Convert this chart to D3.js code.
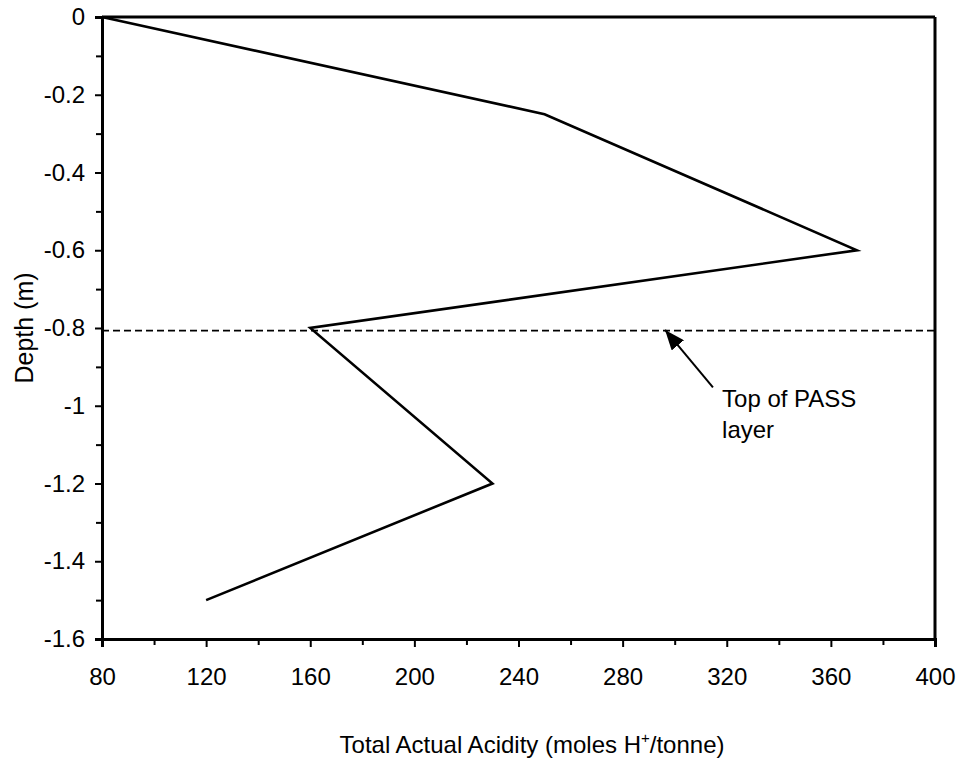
<!DOCTYPE html>
<html>
<head>
<meta charset="utf-8">
<script src="https://cdn.jsdelivr.net/npm/d3@7"></script>
<style>
  html, body { margin: 0; padding: 0; background: #fff; }
  svg { display: block; font-family: Arial, "Liberation Sans", sans-serif; }
</style>
</head>
<body>
<svg id="chart" width="960" height="766"></svg>
<script>
// ---- data ----
const acidity = [80, 250, 370, 160, 230, 120];
const depth = [0, -0.25, -0.6, -0.8, -1.2, -1.5];
const xTickValues = [80, 120, 160, 200, 240, 280, 320, 360, 400];
const yTickValues = [0, -0.2, -0.4, -0.6, -0.8, -1, -1.2, -1.4, -1.6];
const yTickLabels = ["0", "-0.2", "-0.4", "-0.6", "-0.8", "-1", "-1.2", "-1.4", "-1.6"];
const passDepth = -0.807;
const annotationLines = ["Top of PASS", "layer"];
const arrowFrom = [314.7, -0.953];
const arrowTo = [296.3, -0.805];
const textAnchorPt = [318.2, -1.003];
const xTitle = "Total Actual Acidity (moles H";
const yTitle = "Depth (m)";

// ---- layout ----
const W = 960, H = 766;
const m = { left: 102, top: 17, right: 25, bottom: 127 };
const iw = W - m.left - m.right, ih = H - m.top - m.bottom;

const svg = d3.select("#chart");
const g = svg.append("g").attr("transform", `translate(${m.left},${m.top})`);

const x = d3.scaleLinear().domain([80, 400]).range([0, iw]);
const y = d3.scaleLinear().domain([0, -1.6]).range([0, ih]);

// minor ticks
const xMinor = d3.range(100, 400, 40);
const yMinor = d3.range(-0.1, -1.6, -0.2);

// x axis
const xAxis = g.append("g").attr("transform", `translate(0,${ih})`)
  .call(d3.axisBottom(x).tickValues(xTickValues).tickSize(8).tickPadding(16).tickFormat(d3.format("d")));
g.append("g").attr("transform", `translate(0,${ih})`)
  .call(d3.axisBottom(x).tickValues(xMinor).tickSize(6).tickFormat(""))
  .call(s => s.select(".domain").remove());

// y axis
const yAxis = g.append("g")
  .call(d3.axisLeft(y).tickValues(yTickValues).tickSize(7).tickPadding(10)
    .tickFormat((d, i) => yTickLabels[i]));
g.append("g")
  .call(d3.axisLeft(y).tickValues(yMinor).tickSize(6).tickFormat(""))
  .call(s => s.select(".domain").remove());

g.selectAll(".tick line").attr("stroke", "#000").attr("stroke-width", 2);
g.selectAll(".domain").attr("stroke", "#000").attr("stroke-width", 3);
g.selectAll(".tick text").attr("font-size", 24).attr("fill", "#000")
  .attr("font-family", "Arial, 'Liberation Sans', sans-serif");
xAxis.selectAll(".tick text").attr("dy", "0.9em");

// top & right frame
g.append("line").attr("x1", 0).attr("x2", iw).attr("y1", 0).attr("y2", 0)
  .attr("stroke", "#000").attr("stroke-width", 3);
g.append("line").attr("x1", iw).attr("x2", iw).attr("y1", 0).attr("y2", ih)
  .attr("stroke", "#000").attr("stroke-width", 3);

// dashed PASS line
g.append("line")
  .attr("x1", x(80)).attr("x2", x(400))
  .attr("y1", y(passDepth)).attr("y2", y(passDepth))
  .attr("stroke", "#000").attr("stroke-width", 1.8)
  .attr("stroke-dasharray", "7,4");

// data line
const pts = acidity.map((a, i) => [a, depth[i]]);
g.append("path")
  .datum(pts)
  .attr("fill", "none")
  .attr("stroke", "#000")
  .attr("stroke-width", 2.6)
  .attr("stroke-linejoin", "miter")
  .attr("d", d3.line().x(d => x(d[0])).y(d => y(d[1])));

// arrow
svg.append("defs").append("marker")
  .attr("id", "ah")
  .attr("viewBox", "0 0 20 16")
  .attr("refX", 20).attr("refY", 8)
  .attr("markerWidth", 20).attr("markerHeight", 16)
  .attr("markerUnits", "userSpaceOnUse")
  .attr("orient", "auto")
  .append("path").attr("d", "M0,0 L20,8 L0,16 Z").attr("fill", "#000");

g.append("line")
  .attr("x1", x(arrowFrom[0])).attr("y1", y(arrowFrom[1]))
  .attr("x2", x(arrowTo[0])).attr("y2", y(arrowTo[1]))
  .attr("stroke", "#000").attr("stroke-width", 2)
  .attr("marker-end", "url(#ah)");

const ann = g.append("text")
  .attr("x", x(textAnchorPt[0])).attr("y", y(textAnchorPt[1]))
  .attr("font-size", 24).attr("fill", "#000");
annotationLines.forEach((t, i) => {
  ann.append("tspan").attr("x", x(textAnchorPt[0])).attr("dy", i === 0 ? 0 : 31).text(t);
});

// axis titles
const xt = svg.append("text")
  .attr("x", 532).attr("y", 753)
  .attr("text-anchor", "middle")
  .attr("font-size", 24).attr("fill", "#000");
xt.append("tspan").text(xTitle);
xt.append("tspan").attr("font-size", 15).attr("dy", -10).text("+");
xt.append("tspan").attr("dy", 10).text("/tonne)");

svg.append("text")
  .attr("transform", `translate(33,${m.top + ih / 2}) rotate(-90)`)
  .attr("text-anchor", "middle")
  .attr("font-size", 25).attr("fill", "#000")
  .text(yTitle);
</script>
</body>
</html>
